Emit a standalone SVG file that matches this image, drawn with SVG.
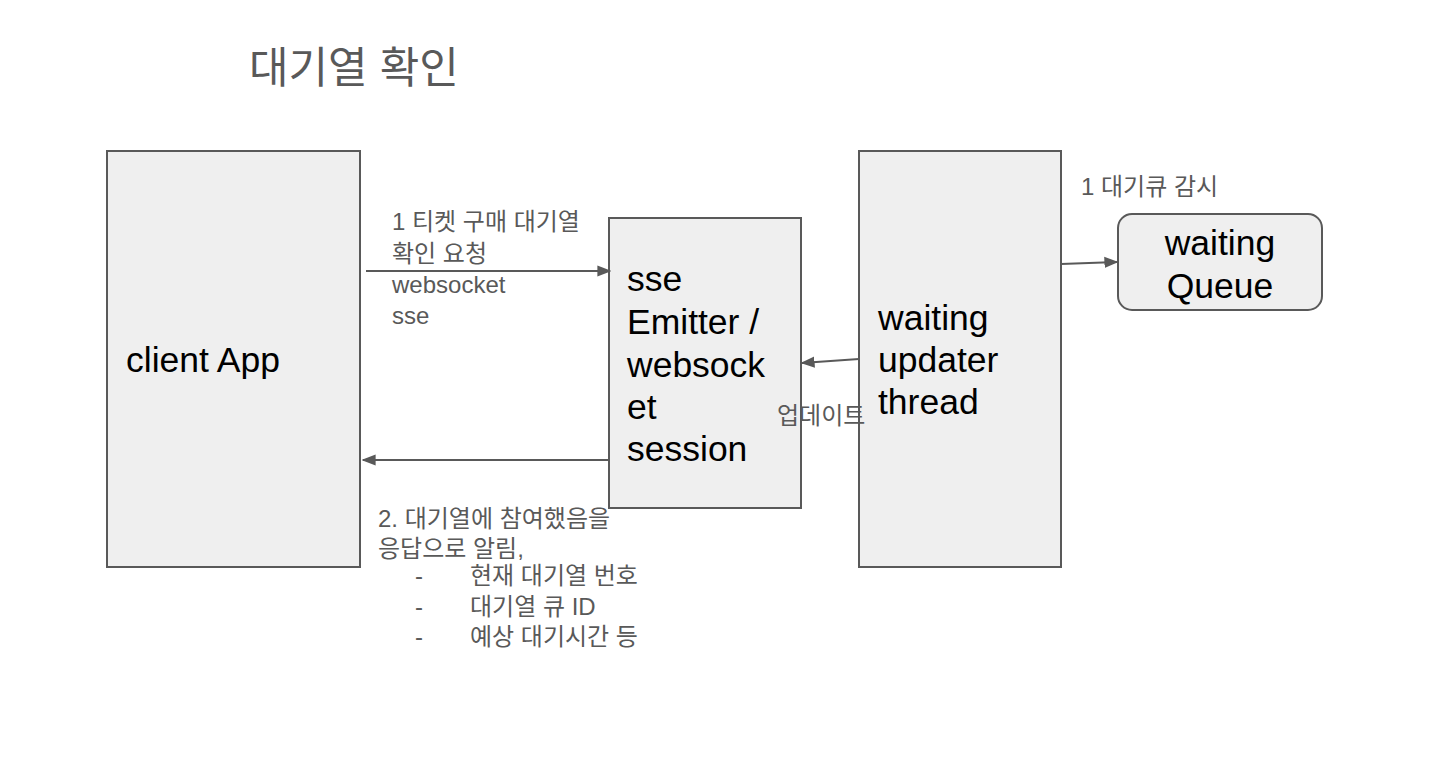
<svg xmlns="http://www.w3.org/2000/svg" width="1455" height="766" viewBox="0 0 1455 766">
<style>
.box{fill:#efefef;stroke:#595959;stroke-width:2}
.big{font-family:"Liberation Sans","Noto Sans CJK KR",sans-serif;font-size:35.5px;fill:#000}
.lbl{font-family:"Liberation Sans","Noto Sans CJK KR",sans-serif;font-size:24px;fill:#595959}
.ln{stroke:#595959;stroke-width:2;fill:none}
</style>
<defs>
<marker id="ah" viewBox="0 0 10 10" refX="9" refY="5" markerWidth="7" markerHeight="7" markerUnits="strokeWidth" orient="auto">
<path d="M0,1 L10,5 L0,9 z" fill="#595959"/>
</marker>
</defs>
<rect width="1455" height="766" fill="#fff"/>
<text x="249" y="83" font-family="Liberation Sans,Noto Sans CJK KR,sans-serif" font-size="43" fill="#595959">대기열 확인</text>
<g id="client">
<rect class="box" x="107" y="151" width="253" height="416"/>
<text class="big" x="126" y="372">client App</text>
</g>
<g id="sse">
<rect class="box" x="609" y="218" width="192" height="290"/>
<text class="big" x="627" y="291">sse</text>
<text class="big" x="627" y="334">Emitter /</text>
<text class="big" x="627" y="377">websock</text>
<text class="big" x="627" y="419">et</text>
<text class="big" x="627" y="461">session</text>
</g>
<g id="updater">
<rect class="box" x="859" y="151" width="202" height="416"/>
<text class="big" x="878" y="330">waiting</text>
<text class="big" x="878" y="372">updater</text>
<text class="big" x="878" y="414">thread</text>
</g>
<g id="queue">
<rect class="box" x="1118" y="214" width="204" height="96" rx="14"/>
<text class="big" x="1220" y="255" text-anchor="middle">waiting</text>
<text class="big" x="1220" y="298" text-anchor="middle">Queue</text>
</g>
<g id="connectors">
<line class="ln" x1="366" y1="271" x2="610" y2="271" marker-end="url(#ah)"/>
<line class="ln" x1="609" y1="460" x2="363" y2="460" marker-end="url(#ah)"/>
<line class="ln" x1="859" y1="359" x2="802" y2="363" marker-end="url(#ah)"/>
<line class="ln" x1="1061" y1="264" x2="1117" y2="262" marker-end="url(#ah)"/>
</g>
<g id="labels">
<text class="lbl" x="392" y="230">1 티켓 구매 대기열</text>
<text class="lbl" x="392" y="262">확인 요청</text>
<text class="lbl" x="392" y="293">websocket</text>
<text class="lbl" x="392" y="324">sse</text>
<text class="lbl" x="378" y="527">2. 대기열에 참여했음을</text>
<text class="lbl" x="378" y="557">응답으로 알림,</text>
<text class="lbl" x="415" y="584">-</text>
<text class="lbl" x="470" y="584">현재 대기열 번호</text>
<text class="lbl" x="415" y="615">-</text>
<text class="lbl" x="470" y="615">대기열 큐 ID</text>
<text class="lbl" x="415" y="645">-</text>
<text class="lbl" x="470" y="645">예상 대기시간 등</text>
<text class="lbl" x="777" y="424">업데이트</text>
<text class="lbl" x="1081" y="195">1 대기큐 감시</text>
</g>
</svg>
